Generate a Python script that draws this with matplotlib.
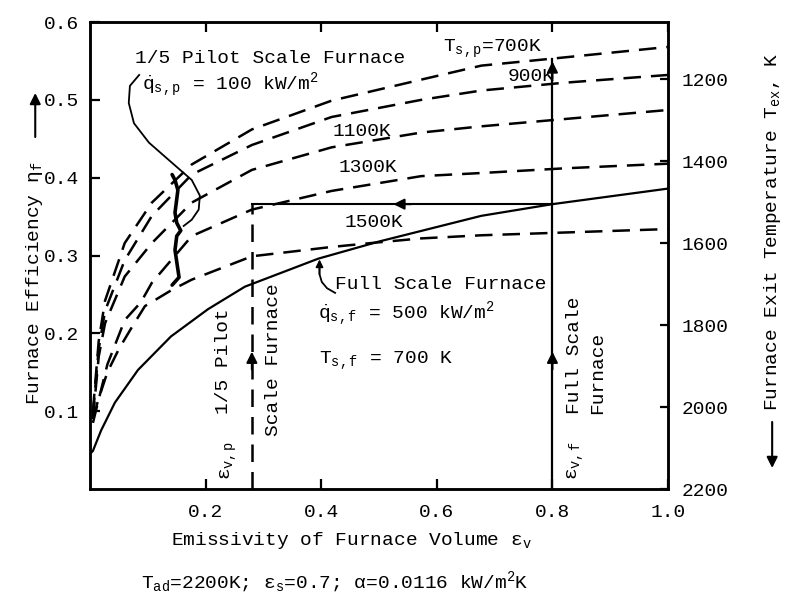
import numpy as np
import matplotlib
matplotlib.use("Agg")
import matplotlib.pyplot as plt

plt.rcParams['font.family'] = ['Liberation Mono', 'DejaVu Sans']
plt.rcParams['font.size'] = 14
plt.rcParams['mathtext.fontset'] = 'custom'
plt.rcParams['mathtext.rm'] = 'Liberation Mono'
plt.rcParams['mathtext.it'] = 'Liberation Mono'
plt.rcParams['mathtext.bf'] = 'Liberation Mono:bold'

# pilot scale furnace curves, surface temperature T_s,p
x700 = [0.005, 0.015, 0.026, 0.06, 0.107, 0.176, 0.28, 0.418, 0.573, 0.677, 0.8, 1.0]
y700 = [0.10, 0.19, 0.242, 0.316, 0.368, 0.417, 0.462, 0.499, 0.526, 0.544, 0.553, 0.568]
x900 = [0.005, 0.015, 0.026, 0.06, 0.107, 0.176, 0.28, 0.418, 0.573, 0.677, 0.82, 1.0]
y900 = [0.095, 0.18, 0.229, 0.294, 0.351, 0.404, 0.442, 0.478, 0.500, 0.512, 0.522, 0.532]
x1100 = [0.005, 0.015, 0.026, 0.06, 0.107, 0.176, 0.28, 0.418, 0.573, 0.677, 1.0]
y1100 = [0.09, 0.17, 0.213, 0.273, 0.316, 0.368, 0.41, 0.439, 0.458, 0.466, 0.487]
x1300 = [0.005, 0.03, 0.06, 0.088, 0.107, 0.176, 0.28, 0.418, 0.573, 0.677, 0.82, 1.0]
y1300 = [0.085, 0.16, 0.217, 0.24, 0.265, 0.325, 0.359, 0.383, 0.402, 0.406, 0.412, 0.418]
x1500 = [0.005, 0.014, 0.03, 0.05, 0.07, 0.095, 0.142, 0.176, 0.28, 0.418, 0.5, 0.573, 0.677, 1.0]
y1500 = [0.09, 0.114, 0.15, 0.18, 0.205, 0.235, 0.256, 0.269, 0.299, 0.311, 0.317, 0.322, 0.326, 0.334]

# full scale furnace
xfull = [0.0, 0.005, 0.019, 0.043, 0.083, 0.14, 0.204, 0.268, 0.395, 0.5, 0.677, 0.8, 1.0]
yfull = [0.045, 0.049, 0.075, 0.111, 0.153, 0.196, 0.231, 0.26, 0.296, 0.318, 0.351, 0.366, 0.386]

# matching construction
eps_p = 0.28
eps_f = 0.8
eta_match = 0.366
eta_top = 0.553

# hand drawn leaders and brace
lead_x = [0.085, 0.069, 0.067, 0.076, 0.102, 0.142, 0.176, 0.190, 0.188, 0.176, 0.162]
lead_y = [0.532, 0.518, 0.496, 0.470, 0.445, 0.419, 0.397, 0.377, 0.359, 0.346, 0.338]
brace_x = [0.142, 0.147, 0.152, 0.147, 0.150, 0.157, 0.150, 0.147, 0.152, 0.154, 0.142]
brace_y = [0.404, 0.397, 0.384, 0.355, 0.342, 0.332, 0.325, 0.307, 0.282, 0.272, 0.262]
full_lead_x = [0.424, 0.410, 0.401, 0.397, 0.397]
full_lead_y = [0.252, 0.258, 0.266, 0.276, 0.284]

T_ticks = [1200, 1400, 1600, 1800, 2000, 2200]
T_ad = 2200
T_span = 1900

fig = plt.figure(figsize=(8.01, 6.02), dpi=100)
ax = fig.add_axes([0.1124, 0.1877, 0.7216, 0.7757])

dash = (0, (7, 4))
for xs, ys in [(x700, y700), (x900, y900), (x1100, y1100), (x1300, y1300), (x1500, y1500)]:
    ax.plot(xs, ys, color='k', lw=1.8, linestyle=dash)
ax.plot(xfull, yfull, color='k', lw=1.6)

# pilot: dashed vertical, then horizontal back from full scale
ax.plot([eps_p, eps_p], [0, eta_match], color='k', lw=1.8, linestyle=dash)
ax.plot([eps_p, eps_f], [eta_match, eta_match], color='k', lw=1.5)
ax.plot([eps_f, eps_f], [0, eta_top], color='k', lw=1.6)
arr = dict(arrowstyle='-|>', color='k', lw=1.5, mutation_scale=16)
ax.annotate('', xy=(eps_f, eta_top), xytext=(eps_f, eta_top - 0.03), arrowprops=arr)
ax.annotate('', xy=(eps_f, 0.18), xytext=(eps_f, 0.15), arrowprops=arr)
ax.annotate('', xy=(eps_p, 0.18), xytext=(eps_p, 0.15), arrowprops=arr)
ax.annotate('', xy=(0.52, eta_match), xytext=(0.56, eta_match), arrowprops=arr)

ax.plot(lead_x, lead_y, color='k', lw=1.3)
ax.plot(brace_x, brace_y, color='k', lw=2.6, solid_capstyle='round')
ax.plot(full_lead_x, full_lead_y, color='k', lw=1.3)
ax.annotate('', xy=(full_lead_x[-1], 0.295), xytext=(full_lead_x[-1], full_lead_y[-2]),
            arrowprops=dict(arrowstyle='-|>', color='k', lw=1.2, mutation_scale=11,
                            shrinkA=0, shrinkB=0))

# curve labels
ax.text(0.61, 0.565, r'T$_{s,p}$=700K', ha='left', va='center')
ax.text(0.763, 0.53, '900K', ha='center', va='center')
ax.text(0.47, 0.459, '1100K', ha='center', va='center')
ax.text(0.48, 0.413, '1300K', ha='center', va='center')
ax.text(0.492, 0.343, '1500K', ha='center', va='center')

ax.text(0.078, 0.553, '1/5 Pilot Scale Furnace', ha='left', va='center')
ax.text(0.09, 0.519, r'$\dot{q}_{s,p}$ = 100 kW/m$^2$', ha='left', va='center')

ax.text(0.424, 0.263, 'Full Scale Furnace', ha='left', va='center')
ax.text(0.395, 0.225, r'$\dot{q}_{s,f}$ = 500 kW/m$^2$', ha='left', va='center')
ax.text(0.397, 0.165, r'T$_{s,f}$ = 700 K', ha='left', va='center')

ax.text(0.24, 0.012, r'$\varepsilon_{v,p}$', rotation=90, ha='center', va='bottom')
ax.text(0.231, 0.097, '1/5 Pilot', rotation=90, ha='center', va='bottom')
ax.text(0.318, 0.068, 'Scale Furnace', rotation=90, ha='center', va='bottom')
ax.text(0.84, 0.012, r'$\varepsilon_{v,f}$', rotation=90, ha='center', va='bottom')
ax.text(0.838, 0.097, 'Full Scale', rotation=90, ha='center', va='bottom')
ax.text(0.879, 0.097, 'Furnace', rotation=90, ha='center', va='bottom')

ax.set_xlim(0, 1.0)
ax.set_ylim(0, 0.6)
ax.set_xticks([0.2, 0.4, 0.6, 0.8, 1.0])
ax.set_xticklabels(['0.2', '0.4', '0.6', '0.8', '1.0'])
ax.set_yticks([0.1, 0.2, 0.3, 0.4, 0.5, 0.6])
ax.set_yticklabels(['0.1', '0.2', '0.3', '0.4', '0.5', '0.6'])
ax.tick_params(direction='in', length=7, width=1.6, top=True, right=False)
ax.tick_params(axis='x', pad=11)
ax.tick_params(axis='y', pad=8)
for s in ax.spines.values():
    s.set_linewidth(1.8)

ax2 = ax.twinx()
ax2.set_ylim(T_ad, T_ad - 0.6 * T_span)
ax2.set_yticks(T_ticks)
ax2.set_yticklabels([str(t) for t in T_ticks])
ax2.tick_params(direction='in', length=6, width=1.6, pad=10)
for s in ax2.spines.values():
    s.set_linewidth(1.8)

# axis titles, arrows drawn separately
fig.text(0.439, 0.0947, r'Emissivity of Furnace Volume $\varepsilon_v$', ha='center', va='baseline')
fig.text(0.043, 0.327, r'Furnace Efficiency $\eta_f$', rotation=90, ha='center', va='bottom')
fig.text(0.964, 0.317, r'Furnace Exit Temperature T$_{ex}$, K', rotation=90, ha='center', va='bottom')
head = dict(arrowstyle='-|>', color='k', lw=1.5, mutation_scale=16, shrinkA=0, shrinkB=0)
ax.annotate('', xy=(0.044, 1 - 93 / 602), xytext=(0.044, 1 - 137 / 602),
            xycoords='figure fraction', textcoords='figure fraction', arrowprops=head)
ax.annotate('', xy=(0.964, 1 - 468 / 602), xytext=(0.964, 1 - 422 / 602),
            xycoords='figure fraction', textcoords='figure fraction', arrowprops=head)
fig.text(0.418, 0.032, r'T$_{ad}$=2200K; $\varepsilon_s$=0.7; $\alpha$=0.0116 kW/m$^2$K', ha='center', va='center')

fig.savefig('out.png', dpi=100)
